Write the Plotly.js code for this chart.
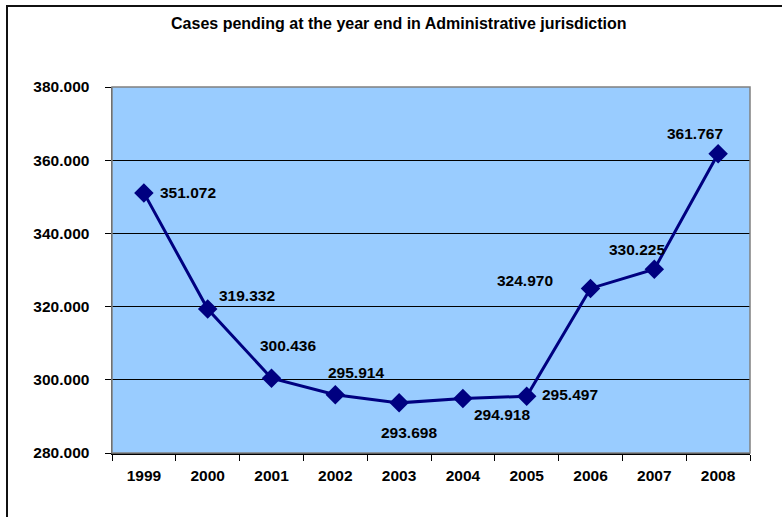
<!DOCTYPE html>
<html>
<head>
<meta charset="utf-8">
<script src="https://cdn.plot.ly/plotly-3.0.1.min.js"></script>
<style>
  html, body { margin: 0; padding: 0; background: #ffffff; overflow: hidden; }
  #chart { width: 782px; height: 517px; }
  #frame { position: absolute; left: 6px; top: 5px; width: 900px; height: 700px;
           border-left: 2px solid #111; border-top: 2px solid #111; pointer-events: none; }
  #err { position: absolute; left: 20px; top: 480px; color: red; font: 10px sans-serif; }
</style>
</head>
<body>
<div id="chart"></div>
<div id="frame"></div>
<div id="err"></div>
<script>
// ---- data ----
const years = ['1999','2000','2001','2002','2003','2004','2005','2006','2007','2008'];
const pending = [351072, 319332, 300436, 295914, 293698, 294918, 295497, 324970, 330225, 361767];
const yTickValues = [280000, 300000, 320000, 340000, 360000, 380000];

// ---- label placement (style, px offsets from each marker) ----
const labelDx = [44, 39, 16, 21, 10, 39, 43, -66, -17, -23];
const labelDy = [0, 14, 33, 22, -30, -16, 2, 8, 20, 20];

function fmt(v) {
  return Math.round(v).toString().replace(/\B(?=(\d{3})+(?!\d))/g, '.');
}

const font = 'Liberation Sans, Arial, sans-serif';

const trace = {
  type: 'scatter',
  mode: 'lines+markers',
  x: years,
  y: pending,
  line: { color: '#000080', width: 3 },
  marker: { symbol: 'diamond', size: 15, color: '#000080' },
  hoverinfo: 'x+y'
};

const annotations = [];
for (let i = 0; i < years.length; i++) {
  annotations.push({
    x: i, y: pending[i], xref: 'x', yref: 'y',
    text: '<b>' + fmt(pending[i]) + '</b>',
    showarrow: false,
    xanchor: 'center', yanchor: 'middle',
    xshift: labelDx[i], yshift: labelDy[i],
    font: { family: font, size: 15.5, color: '#000000' }
  });
}

const layout = {
  width: 782, height: 517,
  margin: { l: 112, r: 32, t: 87, b: 64 },
  paper_bgcolor: '#ffffff',
  plot_bgcolor: '#99CCFF',
  separators: ',.',
  showlegend: false,
  title: {
    text: '<b>Cases pending at the year end in Administrative jurisdiction</b>',
    font: { family: font, size: 16, color: '#000000' },
    x: 0.51, xanchor: 'center',
    y: 1 - 23 / 517, yanchor: 'middle', yref: 'container'
  },
  xaxis: {
    type: 'category',
    tickson: 'boundaries',
    ticks: 'outside', ticklen: 6, tickcolor: '#000000', tickwidth: 1,
    showline: true, linecolor: '#000000', linewidth: 1.5,
    showgrid: false, zeroline: false,
    ticklabelstandoff: 8,
    tickfont: { family: font, size: 15.5, color: '#000000', weight: 'bold' },
    range: [-0.5, 9.5]
  },
  yaxis: {
    range: [280000, 380000],
    tickvals: yTickValues,
    ticktext: yTickValues.map(fmt),
    ticks: 'outside', ticklen: 6, tickcolor: '#000000', tickwidth: 1,
    showline: true, linecolor: '#404040', linewidth: 1.5,
    showgrid: true, gridcolor: '#000000', gridwidth: 1,
    zeroline: false,
    ticklabelstandoff: 12,
    tickfont: { family: font, size: 15.5, color: '#000000', weight: 'bold' }
  },
  shapes: [{
    type: 'rect', xref: 'paper', yref: 'paper', x0: 0, x1: 1, y0: 0, y1: 1,
    line: { color: '#808080', width: 1.5 }, fillcolor: 'rgba(0,0,0,0)', layer: 'above'
  }],
  annotations: annotations
};

try {
  Plotly.newPlot('chart', [trace], layout, { displayModeBar: false, staticPlot: true })
    .catch(e => { document.getElementById('err').textContent = 'ERR ' + e; });
} catch (e) {
  document.getElementById('err').textContent = 'ERR ' + e;
}
</script>
</body>
</html>
